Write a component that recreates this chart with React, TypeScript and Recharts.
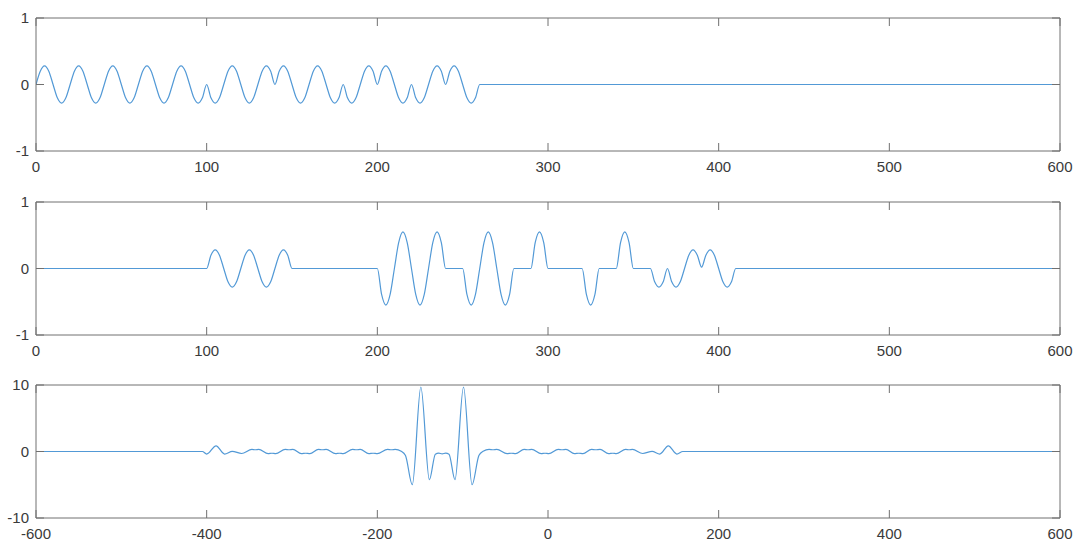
import { LineChart, Line, XAxis, YAxis } from "recharts";

const txWave: [number, number][] = [
  [0, 0], [2.5, 0.2], [5, 0.28], [7.5, 0.2], [10, 0], [12.5, -0.2], [15, -0.28], [17.5, -0.2],
  [20, 0], [22.5, 0.2], [25, 0.28], [27.5, 0.2], [30, 0], [32.5, -0.2], [35, -0.28], [37.5, -0.2],
  [40, 0], [42.5, 0.2], [45, 0.28], [47.5, 0.2], [50, 0], [52.5, -0.2], [55, -0.28], [57.5, -0.2],
  [60, 0], [62.5, 0.2], [65, 0.28], [67.5, 0.2], [70, 0], [72.5, -0.2], [75, -0.28], [77.5, -0.2],
  [80, 0], [82.5, 0.2], [85, 0.28], [87.5, 0.2], [90, 0], [92.5, -0.2], [95, -0.28], [97.5, -0.2],
  [100, 0], [102.5, -0.2], [105, -0.28], [107.5, -0.2], [110, 0], [112.5, 0.2], [115, 0.28], [117.5, 0.2],
  [120, 0], [122.5, -0.2], [125, -0.28], [127.5, -0.2], [130, 0], [132.5, 0.2], [135, 0.28], [137.5, 0.2],
  [140, 0], [142.5, 0.2], [145, 0.28], [147.5, 0.2], [150, 0], [152.5, -0.2], [155, -0.28], [157.5, -0.2],
  [160, 0], [162.5, 0.2], [165, 0.28], [167.5, 0.2], [170, 0], [172.5, -0.2], [175, -0.28], [177.5, -0.2],
  [180, 0], [182.5, -0.2], [185, -0.28], [187.5, -0.2], [190, 0], [192.5, 0.2], [195, 0.28], [197.5, 0.2],
  [200, 0], [202.5, 0.2], [205, 0.28], [207.5, 0.2], [210, 0], [212.5, -0.2], [215, -0.28], [217.5, -0.2],
  [220, 0], [222.5, -0.2], [225, -0.28], [227.5, -0.2], [230, 0], [232.5, 0.2], [235, 0.28], [237.5, 0.2],
  [240, 0], [242.5, 0.2], [245, 0.28], [247.5, 0.2], [250, 0], [252.5, -0.2], [255, -0.28], [257.5, -0.2],
  [260, 0], [600, 0],
];

const rxWave: [number, number][] = [
  [0, 0], [100, 0],
  [102.5, 0.2], [105, 0.28], [107.5, 0.2], [110, 0], [112.5, -0.2], [115, -0.28], [117.5, -0.2],
  [120, 0], [122.5, 0.2], [125, 0.28], [127.5, 0.2], [130, 0], [132.5, -0.2], [135, -0.28], [137.5, -0.2],
  [140, 0], [142.5, 0.2], [145, 0.28], [147.5, 0.2], [150, 0],
  [200, 0], [202.5, -0.39], [205, -0.55], [207.5, -0.39], [210, 0], [212.5, 0.39], [215, 0.55], [217.5, 0.39],
  [220, 0], [222.5, -0.39], [225, -0.55], [227.5, -0.39], [230, 0], [232.5, 0.39], [235, 0.55], [237.5, 0.39],
  [240, 0],
  [250, 0], [252.5, -0.39], [255, -0.55], [257.5, -0.39], [260, 0], [262.5, 0.39], [265, 0.55], [267.5, 0.39],
  [270, 0], [272.5, -0.39], [275, -0.55], [277.5, -0.39], [280, 0],
  [290, 0], [292.5, 0.39], [295, 0.55], [297.5, 0.39], [300, 0],
  [320, 0], [322.5, -0.39], [325, -0.55], [327.5, -0.39], [330, 0],
  [340, 0], [342.5, 0.39], [345, 0.55], [347.5, 0.39], [350, 0],
  [360, 0], [362.5, -0.2], [365, -0.28], [367.5, -0.2], [370, 0], [372.5, -0.2], [375, -0.28], [377.5, -0.2],
  [380, 0], [382.5, 0.2], [385, 0.28], [387.5, 0.2], [390, 0.02], [392.5, 0.2], [395, 0.28], [397.5, 0.2],
  [400, 0], [402.5, -0.2], [405, -0.28], [407.5, -0.2], [410, 0],
  [600, 0],
];

const corrWave: [number, number][] = [
  [-600, 0], [-405, 0], [-400, -0.38], [-389, 0.85], [-379, -0.38], [-370, 0.02], [-359, -0.3],
  [-347, 0.32], [-343, 0.26], [-339, 0.32],
  [-328, -0.32], [-323.5, -0.26], [-319, -0.32],
  [-308, 0.32], [-303.5, 0.26], [-299, 0.32],
  [-289, -0.32], [-284, -0.26], [-279, -0.32],
  [-269, 0.32], [-264.5, 0.26], [-260, 0.32],
  [-249, -0.32], [-244.5, -0.26], [-240, -0.32],
  [-229, 0.32], [-224.5, 0.26], [-220, 0.32],
  [-210, -0.32], [-205, -0.26], [-200, -0.32],
  [-188, 0.32], [-183.5, 0.26], [-179, 0.32],
  [-172, 0.05], [-167, -0.6], [-159, -5.0], [-149, 9.7], [-139, -4.25],
  [-132, -0.4], [-128, -0.25], [-124, -0.35], [-120, -0.25], [-116, -0.4],
  [-109, -4.25], [-99, 9.7], [-89, -5.0], [-81, -0.6], [-76, 0.05],
  [-69, 0.32], [-64.5, 0.26], [-60, 0.32],
  [-48, -0.32], [-43, -0.26], [-38, -0.32],
  [-28, 0.32], [-23.5, 0.26], [-19, 0.32],
  [-8, -0.32], [-3.5, -0.26], [1, -0.32],
  [12, 0.32], [16.5, 0.26], [21, 0.32],
  [31, -0.32], [36, -0.26], [41, -0.32],
  [51, 0.32], [56, 0.26], [61, 0.32],
  [71, -0.32], [76, -0.26], [80, -0.32],
  [91, 0.32], [95, 0.26], [99, 0.32],
  [111, -0.3], [122, 0.02], [131, -0.38], [141, 0.85], [151, -0.38], [158, 0], [600, 0],
];

const sampleTicks = [0, 100, 200, 300, 400, 500, 600];
const lagTicks = [-600, -400, -200, 0, 200, 400, 600];
const unitTicks = [-1, 0, 1];
const corrTicks = [-10, 0, 10];

const LINE = "#5299d6";
const AXIS = "#707070";
const TEXT = "#3a3a3a";
const FONT = "'Liberation Sans', Arial, sans-serif";

const toRows = (w: [number, number][]) => w.map(([x, y]) => ({ x, y }));
const noLabel = () => <g />;

type PanelProps = {
  wave: [number, number][];
  xTicks: number[];
  yTicks: number[];
  top: number;
};

function Panel({ wave, xTicks, yTicks, top }: PanelProps) {
  const xDomain = [xTicks[0], xTicks[xTicks.length - 1]];
  const yDomain = [yTicks[0], yTicks[yTicks.length - 1]];
  const tickStyle = { fill: TEXT, fontSize: 15, fontFamily: FONT };
  return (
    <div style={{ position: "absolute", left: 0, top }}>
      <LineChart
        width={1080}
        height={185}
        data={toRows(wave)}
        margin={{ top: 17, right: 19, bottom: 4, left: 0 }}
      >
        <XAxis
          xAxisId="b"
          dataKey="x"
          type="number"
          domain={xDomain}
          ticks={xTicks}
          allowDataOverflow
          interval={0}
          height={30}
          tickSize={-8}
          tickMargin={18}
          axisLine={{ stroke: AXIS }}
          tickLine={{ stroke: AXIS }}
          tick={tickStyle}
        />
        <XAxis
          xAxisId="t"
          orientation="top"
          dataKey="x"
          type="number"
          domain={xDomain}
          ticks={xTicks}
          allowDataOverflow
          interval={0}
          height={1}
          tickSize={-8}
          axisLine={{ stroke: AXIS }}
          tickLine={{ stroke: AXIS }}
          tick={noLabel}
        />
        <YAxis
          yAxisId="l"
          type="number"
          domain={yDomain}
          ticks={yTicks}
          allowDataOverflow
          interval={0}
          width={36}
          tickSize={-8}
          tickMargin={15}
          axisLine={{ stroke: AXIS }}
          tickLine={{ stroke: AXIS }}
          tick={tickStyle}
        />
        <YAxis
          yAxisId="r"
          orientation="right"
          type="number"
          domain={yDomain}
          ticks={yTicks}
          allowDataOverflow
          interval={0}
          width={1}
          tickSize={-8}
          axisLine={{ stroke: AXIS }}
          tickLine={{ stroke: AXIS }}
          tick={noLabel}
        />
        <Line
          xAxisId="b"
          yAxisId="l"
          type="monotone"
          dataKey="y"
          stroke={LINE}
          strokeWidth={1.2}
          dot={false}
          activeDot={false}
          isAnimationActive={false}
        />
      </LineChart>
    </div>
  );
}

export default function App() {
  return (
    <div
      style={{
        position: "absolute",
        left: 0,
        top: 0,
        width: 1080,
        height: 547,
        overflow: "hidden",
        background: "#ffffff",
      }}
    >
      <Panel wave={txWave} xTicks={sampleTicks} yTicks={unitTicks} top={0} />
      <Panel wave={rxWave} xTicks={sampleTicks} yTicks={unitTicks} top={184} />
      <Panel wave={corrWave} xTicks={lagTicks} yTicks={corrTicks} top={367} />
    </div>
  );
}
